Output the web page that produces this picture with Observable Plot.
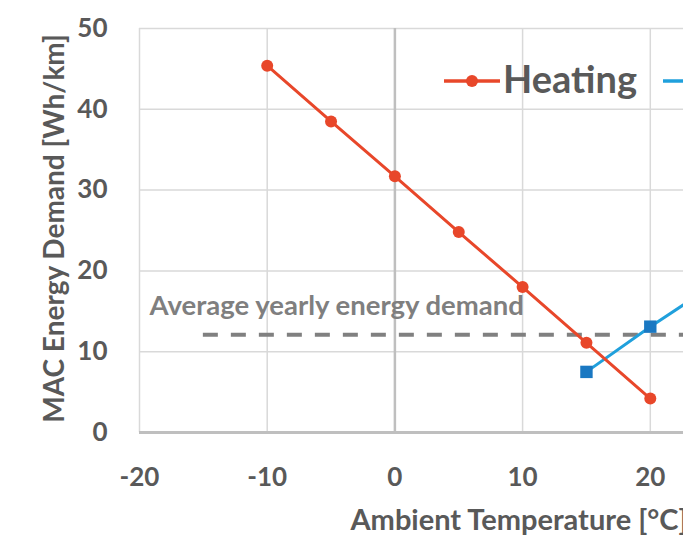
<!DOCTYPE html>
<html>
<head>
<meta charset="utf-8">
<script src="https://cdn.jsdelivr.net/npm/d3@7"></script>
<script src="https://cdn.jsdelivr.net/npm/@observablehq/plot@0.6"></script>
<style>
  html, body { margin: 0; padding: 0; background: #fff; }
  #wrap { position: relative; width: 683px; height: 557px; overflow: hidden; font-family: Lato, "Open Sans", sans-serif; }
  #legend { position: absolute; left: 444px; top: 56px; height: 44px; display: flex; align-items: center; white-space: nowrap; }
  #legend .lab { font-weight: 700; font-size: 38px; color: #595959; margin: 0 26px 0 3px; line-height: 1; }
</style>
</head>
<body>
<div id="wrap">
  <div id="chart"></div>
  <div id="legend"></div>
</div>
<script>
// Data
const temps = [-10, -5, 0, 5, 10, 15, 20];
const heating = [45.4, 38.5, 31.7, 24.8, 18.0, 11.1, 4.2];
const coolingTemps = [15, 20, 25];
const cooling = [7.5, 13.1, 18.3];
const avgDemand = 12.1;
const avgStart = -15;
const xTicks = [-20, -10, 0, 10, 20];
const yTicks = [0, 10, 20, 30, 40, 50];
const seriesNames = ["Heating", "Cooling"];

const heatData = temps.map((t, i) => ({t, v: heating[i]}));
const coolData = coolingTemps.map((t, i) => ({t, v: cooling[i]}));

const red = "#e8472a";
const blueLine = "#20a0dc";
const blueMark = "#1a78c2";
const textCol = "#595959";

const chart = Plot.plot({
  width: 683,
  height: 557,
  marginLeft: 139,
  marginTop: 28,
  marginBottom: 125,
  marginRight: 0,
  style: {fontFamily: "Lato, 'Open Sans', sans-serif", background: "#fff"},
  x: {domain: [-20, 22.6], ticks: xTicks},
  y: {domain: [0, 50], ticks: yTicks},
  marks: [
    Plot.gridY(yTicks.filter(d => d > 0), {stroke: "#d9d9d9", strokeOpacity: 1, strokeWidth: 1.5}),
    Plot.gridX(xTicks, {stroke: "#d9d9d9", strokeOpacity: 1, strokeWidth: 1.5}),
    Plot.ruleX([0], {stroke: "#bfbfbf", strokeWidth: 2.5}),
    Plot.ruleY([0], {stroke: "#bfbfbf", strokeWidth: 3}),
    Plot.axisX({ticks: xTicks, tickSize: 0, tickPadding: 35, fontSize: 26, fontWeight: 700, fill: textCol, label: null, tickFormat: d => String(d).replace("−", "-")}),
    Plot.axisY({ticks: yTicks, tickSize: 0, tickPadding: 32, fontSize: 26, fontWeight: 700, fill: textCol, label: null}),
    Plot.text(["MAC Energy Demand [Wh/km]"], {frameAnchor: "left", textAnchor: "middle", rotate: -90, dx: -84, dy: -2, fontSize: 28, fontWeight: 700, fill: textCol}),
    Plot.text(["Ambient Temperature [°C]"], {frameAnchor: "bottom-left", textAnchor: "start", dx: 211, dy: 97, fontSize: 29, fontWeight: 700, fill: textCol}),
    Plot.ruleY([avgDemand], {x1: avgStart, x2: 22.6, stroke: "#808080", strokeWidth: 4, strokeDasharray: "15,13", clip: true}),
    Plot.text(["Average yearly energy demand"], {y: [avgDemand], frameAnchor: "left", textAnchor: "start", dx: 10, dy: -29, fontSize: 27.5, fontWeight: 700, fill: "#7f7f7f"}),
    Plot.line(coolData, {x: "t", y: "v", stroke: blueLine, strokeWidth: 3, clip: true}),
    Plot.dot(coolData, {x: "t", y: "v", symbol: "square", r: 7, fill: blueMark, clip: true}),
    Plot.line(heatData, {x: "t", y: "v", stroke: red, strokeWidth: 3, clip: true}),
    Plot.dot(heatData, {x: "t", y: "v", r: 6, fill: red, clip: true})
  ]
});
document.getElementById("chart").appendChild(chart);

// Legend
const legend = d3.select("#legend");
const colors = [[red, red, "circle"], [blueLine, blueMark, "square"]];
seriesNames.forEach((name, i) => {
  const [lc, mc, sym] = colors[i];
  const svg = legend.append("svg").attr("width", 56).attr("height", 12).style("margin-top", "6px");
  svg.append("line").attr("x1", 0).attr("x2", 56).attr("y1", 6).attr("y2", 6).attr("stroke", lc).attr("stroke-width", 3.5);
  if (sym === "circle") svg.append("circle").attr("cx", 28).attr("cy", 6).attr("r", 6).attr("fill", mc);
  else svg.append("rect").attr("x", 22).attr("y", 0).attr("width", 12).attr("height", 12).attr("fill", mc);
  legend.append("span").attr("class", "lab").text(name);
});
</script>
</body>
</html>
